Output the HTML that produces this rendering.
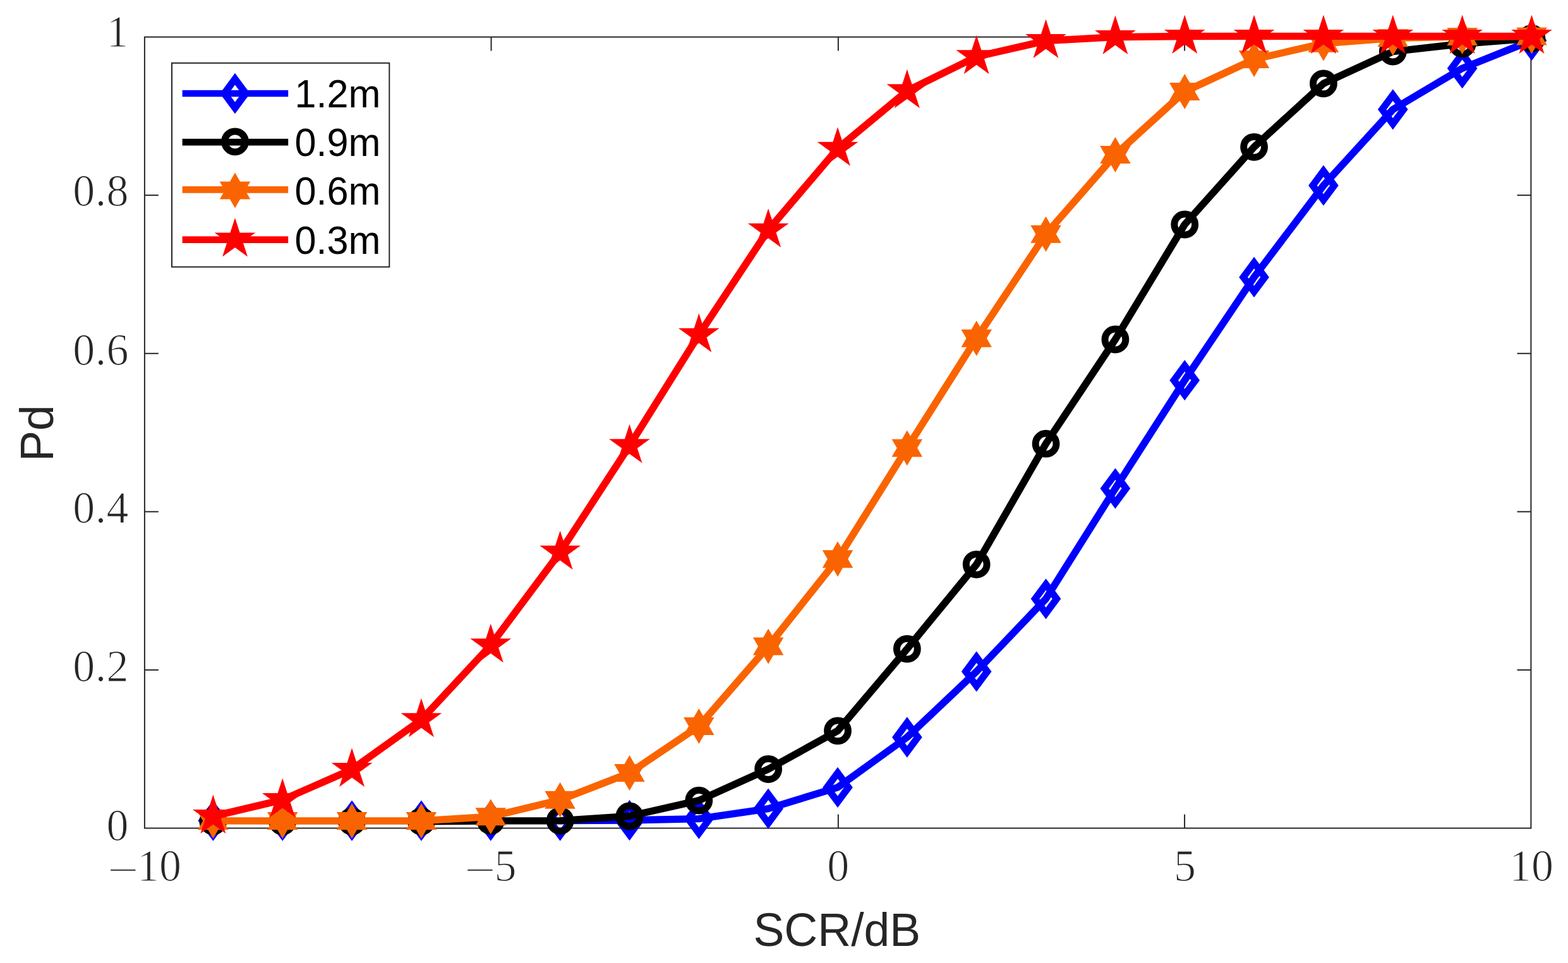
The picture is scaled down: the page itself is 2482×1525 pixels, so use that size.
<!DOCTYPE html>
<html lang="en">
<head>
<meta charset="utf-8">
<title>Pd versus SCR</title>
<style>
html, body { margin: 0; padding: 0; background: #ffffff; }
body { width: 2482px; height: 1525px; overflow: hidden; }
svg { display: block; }
text { white-space: pre; }
</style>
</head>
<body>
<svg width="2482" height="1525" viewBox="0 0 2482 1525" role="img" aria-label="Pd versus SCR/dB for four range resolutions">
<rect x="0" y="0" width="2482" height="1525" fill="#ffffff"/>
<g class="axes" stroke="#262626" stroke-width="2" fill="none" stroke-linecap="butt">
<rect x="228.9" y="58.6" width="2194.5" height="1252.9"/>
<line x1="777.52" y1="1311.5" x2="777.52" y2="1289.6"/>
<line x1="777.52" y1="58.6" x2="777.52" y2="80.5"/>
<line x1="1326.85" y1="1311.5" x2="1326.85" y2="1289.6"/>
<line x1="1326.85" y1="58.6" x2="1326.85" y2="80.5"/>
<line x1="1875.08" y1="1311.5" x2="1875.08" y2="1289.6"/>
<line x1="1875.08" y1="58.6" x2="1875.08" y2="80.5"/>
<line x1="228.9" y1="1060.92" x2="250.8" y2="1060.92"/>
<line x1="2423.4" y1="1060.92" x2="2401.5" y2="1060.92"/>
<line x1="228.9" y1="810.34" x2="250.8" y2="810.34"/>
<line x1="2423.4" y1="810.34" x2="2401.5" y2="810.34"/>
<line x1="228.9" y1="559.76" x2="250.8" y2="559.76"/>
<line x1="2423.4" y1="559.76" x2="2401.5" y2="559.76"/>
<line x1="228.9" y1="309.18" x2="250.8" y2="309.18"/>
<line x1="2423.4" y1="309.18" x2="2401.5" y2="309.18"/>
</g>
<g class="ticklabels" font-family="'Liberation Serif', 'DejaVu Serif', serif" font-size="70" fill="#262626" stroke="#ffffff" stroke-width="1.2" stroke-linejoin="round">
<text transform="translate(204,1330.5) scale(1,1.04)" text-anchor="end" letter-spacing="0.4">0</text>
<text transform="translate(204,1079.34) scale(1,1.04)" text-anchor="end" letter-spacing="0.4">0.2</text>
<text transform="translate(204,828.18) scale(1,1.04)" text-anchor="end" letter-spacing="0.4">0.4</text>
<text transform="translate(204,578.22) scale(1,1.04)" text-anchor="end" letter-spacing="0.4">0.6</text>
<text transform="translate(204,325.86) scale(1,1.04)" text-anchor="end" letter-spacing="0.4">0.8</text>
<text transform="translate(204,74.3) scale(1,1.04)" text-anchor="end" letter-spacing="0.4">1</text>
<text transform="translate(169.8,1394.6) scale(1,1.04)"><tspan dy="7" textLength="49.6" lengthAdjust="spacingAndGlyphs" fill-opacity="0.85">−</tspan><tspan dy="-7" dx="-2.4">10</tspan></text>
<text transform="translate(734.73,1394.6) scale(1,1.04)"><tspan dy="7" textLength="49.6" lengthAdjust="spacingAndGlyphs" fill-opacity="0.85">−</tspan><tspan dy="-7" dx="-1.7">5</tspan></text>
<text transform="translate(1326.75,1394.6) scale(1,1.04)" text-anchor="middle">0</text>
<text transform="translate(1875.38,1394.6) scale(1,1.04)" text-anchor="middle">5</text>
<text transform="translate(2424,1394.6) scale(1,1.04)" text-anchor="middle">10</text>
</g>
<g class="labels" font-family="'Liberation Sans', 'DejaVu Sans', sans-serif" font-size="73.3" fill="#262626">
<text transform="translate(1324.8,1497.7) scale(1,1.02)" text-anchor="middle">SCR/dB</text>
<text transform="translate(83.9,686) rotate(-90) scale(1,1.02)" text-anchor="middle">Pd</text>
</g>
<g class="s-blue">
<polyline points="337.35,1299.6 447.2,1299.6 557.05,1299.6 666.9,1299.6 776.75,1299.6 886.6,1299.6" fill="none" stroke="#0000ff" stroke-width="9" stroke-linejoin="round" stroke-linecap="butt"/>
<polyline points="886.6,1299.6 996.45,1299 1106.3,1296.6 1216.15,1280.6 1326,1246.9 1435.85,1167.5 1545.7,1063.4 1655.55,948.3 1765.4,773.5 1875.25,602.2 1985.1,438.9 2094.95,293.7 2204.8,173.3 2314.65,108.2 2424.5,64.1" fill="none" stroke="#0000ff" stroke-width="11.4" stroke-linejoin="round" stroke-linecap="butt"/>
<polygon points="337.35,1276.7 354.35,1299.6 337.35,1322.5 320.35,1299.6" fill="none" stroke="#0000ff" stroke-width="11" stroke-linejoin="miter"/>
<polygon points="447.2,1276.7 464.2,1299.6 447.2,1322.5 430.2,1299.6" fill="none" stroke="#0000ff" stroke-width="11" stroke-linejoin="miter"/>
<polygon points="557.05,1276.7 574.05,1299.6 557.05,1322.5 540.05,1299.6" fill="none" stroke="#0000ff" stroke-width="11" stroke-linejoin="miter"/>
<polygon points="666.9,1276.7 683.9,1299.6 666.9,1322.5 649.9,1299.6" fill="none" stroke="#0000ff" stroke-width="11" stroke-linejoin="miter"/>
<polygon points="776.75,1276.7 793.75,1299.6 776.75,1322.5 759.75,1299.6" fill="none" stroke="#0000ff" stroke-width="11" stroke-linejoin="miter"/>
<polygon points="886.6,1276.7 903.6,1299.6 886.6,1322.5 869.6,1299.6" fill="none" stroke="#0000ff" stroke-width="11" stroke-linejoin="miter"/>
<polygon points="996.45,1276.1 1013.45,1299 996.45,1321.9 979.45,1299" fill="none" stroke="#0000ff" stroke-width="11" stroke-linejoin="miter"/>
<polygon points="1106.3,1273.7 1123.3,1296.6 1106.3,1319.5 1089.3,1296.6" fill="none" stroke="#0000ff" stroke-width="11" stroke-linejoin="miter"/>
<polygon points="1216.15,1257.7 1233.15,1280.6 1216.15,1303.5 1199.15,1280.6" fill="none" stroke="#0000ff" stroke-width="11" stroke-linejoin="miter"/>
<polygon points="1326,1224 1343,1246.9 1326,1269.8 1309,1246.9" fill="none" stroke="#0000ff" stroke-width="11" stroke-linejoin="miter"/>
<polygon points="1435.85,1144.6 1452.85,1167.5 1435.85,1190.4 1418.85,1167.5" fill="none" stroke="#0000ff" stroke-width="11" stroke-linejoin="miter"/>
<polygon points="1545.7,1040.5 1562.7,1063.4 1545.7,1086.3 1528.7,1063.4" fill="none" stroke="#0000ff" stroke-width="11" stroke-linejoin="miter"/>
<polygon points="1655.55,925.4 1672.55,948.3 1655.55,971.2 1638.55,948.3" fill="none" stroke="#0000ff" stroke-width="11" stroke-linejoin="miter"/>
<polygon points="1765.4,750.6 1782.4,773.5 1765.4,796.4 1748.4,773.5" fill="none" stroke="#0000ff" stroke-width="11" stroke-linejoin="miter"/>
<polygon points="1875.25,579.3 1892.25,602.2 1875.25,625.1 1858.25,602.2" fill="none" stroke="#0000ff" stroke-width="11" stroke-linejoin="miter"/>
<polygon points="1985.1,416 2002.1,438.9 1985.1,461.8 1968.1,438.9" fill="none" stroke="#0000ff" stroke-width="11" stroke-linejoin="miter"/>
<polygon points="2094.95,270.8 2111.95,293.7 2094.95,316.6 2077.95,293.7" fill="none" stroke="#0000ff" stroke-width="11" stroke-linejoin="miter"/>
<polygon points="2204.8,150.4 2221.8,173.3 2204.8,196.2 2187.8,173.3" fill="none" stroke="#0000ff" stroke-width="11" stroke-linejoin="miter"/>
<polygon points="2314.65,85.3 2331.65,108.2 2314.65,131.1 2297.65,108.2" fill="none" stroke="#0000ff" stroke-width="11" stroke-linejoin="miter"/>
<polygon points="2424.5,41.2 2441.5,64.1 2424.5,87 2407.5,64.1" fill="none" stroke="#0000ff" stroke-width="11" stroke-linejoin="miter"/>
</g>
<g class="s-black">
<polyline points="337.35,1300.6 447.2,1300.8 557.05,1300.8 666.9,1300.8" fill="none" stroke="#000000" stroke-width="9" stroke-linejoin="round" stroke-linecap="butt"/>
<polyline points="666.9,1300.8 776.75,1299.9 886.6,1299.8 996.45,1292.4 1106.3,1267.6 1216.15,1218 1326,1157.3 1435.85,1027.6 1545.7,893.8 1655.55,702.7 1765.4,537.5 1875.25,355.5 1985.1,232.8 2094.95,132.3 2204.8,81.6 2314.65,69.3 2424.5,60.8" fill="none" stroke="#000000" stroke-width="11.4" stroke-linejoin="round" stroke-linecap="butt"/>
<circle cx="337.35" cy="1300.6" r="16.4" fill="none" stroke="#000000" stroke-width="11"/>
<circle cx="447.2" cy="1300.8" r="16.4" fill="none" stroke="#000000" stroke-width="11"/>
<circle cx="557.05" cy="1300.8" r="16.4" fill="none" stroke="#000000" stroke-width="11"/>
<circle cx="666.9" cy="1300.8" r="16.4" fill="none" stroke="#000000" stroke-width="11"/>
<circle cx="776.75" cy="1299.9" r="16.4" fill="none" stroke="#000000" stroke-width="11"/>
<circle cx="886.6" cy="1299.8" r="16.4" fill="none" stroke="#000000" stroke-width="11"/>
<circle cx="996.45" cy="1292.4" r="16.4" fill="none" stroke="#000000" stroke-width="11"/>
<circle cx="1106.3" cy="1267.6" r="16.4" fill="none" stroke="#000000" stroke-width="11"/>
<circle cx="1216.15" cy="1218" r="16.4" fill="none" stroke="#000000" stroke-width="11"/>
<circle cx="1326" cy="1157.3" r="16.4" fill="none" stroke="#000000" stroke-width="11"/>
<circle cx="1435.85" cy="1027.6" r="16.4" fill="none" stroke="#000000" stroke-width="11"/>
<circle cx="1545.7" cy="893.8" r="16.4" fill="none" stroke="#000000" stroke-width="11"/>
<circle cx="1655.55" cy="702.7" r="16.4" fill="none" stroke="#000000" stroke-width="11"/>
<circle cx="1765.4" cy="537.5" r="16.4" fill="none" stroke="#000000" stroke-width="11"/>
<circle cx="1875.25" cy="355.5" r="16.4" fill="none" stroke="#000000" stroke-width="11"/>
<circle cx="1985.1" cy="232.8" r="16.4" fill="none" stroke="#000000" stroke-width="11"/>
<circle cx="2094.95" cy="132.3" r="16.4" fill="none" stroke="#000000" stroke-width="11"/>
<circle cx="2204.8" cy="81.6" r="16.4" fill="none" stroke="#000000" stroke-width="11"/>
<circle cx="2314.65" cy="69.3" r="16.4" fill="none" stroke="#000000" stroke-width="11"/>
<circle cx="2424.5" cy="60.8" r="16.4" fill="none" stroke="#000000" stroke-width="11"/>
</g>
<g class="s-orange">
<polyline points="337.35,1299.9 447.2,1299.9 557.05,1299.9 666.9,1299.9 776.75,1293.3 886.6,1266.7 996.45,1224.1 1106.3,1150 1216.15,1023.4 1326,885.3 1435.85,709.6 1545.7,535.8 1655.55,370.7 1765.4,245 1875.25,145 1985.1,94 2094.95,68.7 2204.8,60.2 2314.65,58 2424.5,57.6" fill="none" stroke="#fa6400" stroke-width="11.4" stroke-linejoin="round" stroke-linecap="butt"/>
<polygon points="337.35,1271.9 345.43,1285.9 361.6,1285.9 353.52,1299.9 361.6,1313.9 345.43,1313.9 337.35,1327.9 329.27,1313.9 313.1,1313.9 321.18,1299.9 313.1,1285.9 329.27,1285.9" fill="#fa6400"/>
<polygon points="447.2,1271.9 455.28,1285.9 471.45,1285.9 463.37,1299.9 471.45,1313.9 455.28,1313.9 447.2,1327.9 439.12,1313.9 422.95,1313.9 431.03,1299.9 422.95,1285.9 439.12,1285.9" fill="#fa6400"/>
<polygon points="557.05,1271.9 565.13,1285.9 581.3,1285.9 573.22,1299.9 581.3,1313.9 565.13,1313.9 557.05,1327.9 548.97,1313.9 532.8,1313.9 540.88,1299.9 532.8,1285.9 548.97,1285.9" fill="#fa6400"/>
<polygon points="666.9,1271.9 674.98,1285.9 691.15,1285.9 683.07,1299.9 691.15,1313.9 674.98,1313.9 666.9,1327.9 658.82,1313.9 642.65,1313.9 650.73,1299.9 642.65,1285.9 658.82,1285.9" fill="#fa6400"/>
<polygon points="776.75,1265.3 784.83,1279.3 801,1279.3 792.92,1293.3 801,1307.3 784.83,1307.3 776.75,1321.3 768.67,1307.3 752.5,1307.3 760.58,1293.3 752.5,1279.3 768.67,1279.3" fill="#fa6400"/>
<polygon points="886.6,1238.7 894.68,1252.7 910.85,1252.7 902.77,1266.7 910.85,1280.7 894.68,1280.7 886.6,1294.7 878.52,1280.7 862.35,1280.7 870.43,1266.7 862.35,1252.7 878.52,1252.7" fill="#fa6400"/>
<polygon points="996.45,1196.1 1004.53,1210.1 1020.7,1210.1 1012.62,1224.1 1020.7,1238.1 1004.53,1238.1 996.45,1252.1 988.37,1238.1 972.2,1238.1 980.28,1224.1 972.2,1210.1 988.37,1210.1" fill="#fa6400"/>
<polygon points="1106.3,1122 1114.38,1136 1130.55,1136 1122.47,1150 1130.55,1164 1114.38,1164 1106.3,1178 1098.22,1164 1082.05,1164 1090.13,1150 1082.05,1136 1098.22,1136" fill="#fa6400"/>
<polygon points="1216.15,995.4 1224.23,1009.4 1240.4,1009.4 1232.32,1023.4 1240.4,1037.4 1224.23,1037.4 1216.15,1051.4 1208.07,1037.4 1191.9,1037.4 1199.98,1023.4 1191.9,1009.4 1208.07,1009.4" fill="#fa6400"/>
<polygon points="1326,857.3 1334.08,871.3 1350.25,871.3 1342.17,885.3 1350.25,899.3 1334.08,899.3 1326,913.3 1317.92,899.3 1301.75,899.3 1309.83,885.3 1301.75,871.3 1317.92,871.3" fill="#fa6400"/>
<polygon points="1435.85,681.6 1443.93,695.6 1460.1,695.6 1452.02,709.6 1460.1,723.6 1443.93,723.6 1435.85,737.6 1427.77,723.6 1411.6,723.6 1419.68,709.6 1411.6,695.6 1427.77,695.6" fill="#fa6400"/>
<polygon points="1545.7,507.8 1553.78,521.8 1569.95,521.8 1561.87,535.8 1569.95,549.8 1553.78,549.8 1545.7,563.8 1537.62,549.8 1521.45,549.8 1529.53,535.8 1521.45,521.8 1537.62,521.8" fill="#fa6400"/>
<polygon points="1655.55,342.7 1663.63,356.7 1679.8,356.7 1671.72,370.7 1679.8,384.7 1663.63,384.7 1655.55,398.7 1647.47,384.7 1631.3,384.7 1639.38,370.7 1631.3,356.7 1647.47,356.7" fill="#fa6400"/>
<polygon points="1765.4,217 1773.48,231 1789.65,231 1781.57,245 1789.65,259 1773.48,259 1765.4,273 1757.32,259 1741.15,259 1749.23,245 1741.15,231 1757.32,231" fill="#fa6400"/>
<polygon points="1875.25,117 1883.33,131 1899.5,131 1891.42,145 1899.5,159 1883.33,159 1875.25,173 1867.17,159 1851,159 1859.08,145 1851,131 1867.17,131" fill="#fa6400"/>
<polygon points="1985.1,66 1993.18,80 2009.35,80 2001.27,94 2009.35,108 1993.18,108 1985.1,122 1977.02,108 1960.85,108 1968.93,94 1960.85,80 1977.02,80" fill="#fa6400"/>
<polygon points="2094.95,40.7 2103.03,54.7 2119.2,54.7 2111.12,68.7 2119.2,82.7 2103.03,82.7 2094.95,96.7 2086.87,82.7 2070.7,82.7 2078.78,68.7 2070.7,54.7 2086.87,54.7" fill="#fa6400"/>
<polygon points="2204.8,32.2 2212.88,46.2 2229.05,46.2 2220.97,60.2 2229.05,74.2 2212.88,74.2 2204.8,88.2 2196.72,74.2 2180.55,74.2 2188.63,60.2 2180.55,46.2 2196.72,46.2" fill="#fa6400"/>
<polygon points="2314.65,30 2322.73,44 2338.9,44 2330.82,58 2338.9,72 2322.73,72 2314.65,86 2306.57,72 2290.4,72 2298.48,58 2290.4,44 2306.57,44" fill="#fa6400"/>
<polygon points="2424.5,29.6 2432.58,43.6 2448.75,43.6 2440.67,57.6 2448.75,71.6 2432.58,71.6 2424.5,85.6 2416.42,71.6 2400.25,71.6 2408.33,57.6 2400.25,43.6 2416.42,43.6" fill="#fa6400"/>
</g>
<g class="s-red">
<polyline points="337.35,1292.6 447.2,1266.6 557.05,1218.5 666.9,1139.8 776.75,1021.8 886.6,874.5 996.45,705.8 1106.3,530.3 1216.15,364.2 1326,235.2 1435.85,143.8 1545.7,89.8 1655.55,64.6 1765.4,58.6 1875.25,57.5 1985.1,57.4 2094.95,57.4 2204.8,57.4 2314.65,57.4 2424.5,57.4" fill="none" stroke="#ff0000" stroke-width="11.4" stroke-linejoin="round" stroke-linecap="butt"/>
<polygon points="337.35,1258.6 344.98,1282.09 369.69,1282.09 349.7,1296.61 357.33,1320.11 337.35,1305.59 317.37,1320.11 325,1296.61 305.01,1282.09 329.72,1282.09" fill="#ff0000"/>
<polygon points="447.2,1232.6 454.83,1256.09 479.54,1256.09 459.55,1270.61 467.18,1294.11 447.2,1279.59 427.22,1294.11 434.85,1270.61 414.86,1256.09 439.57,1256.09" fill="#ff0000"/>
<polygon points="557.05,1184.5 564.68,1207.99 589.39,1207.99 569.4,1222.51 577.03,1246.01 557.05,1231.49 537.07,1246.01 544.7,1222.51 524.71,1207.99 549.42,1207.99" fill="#ff0000"/>
<polygon points="666.9,1105.8 674.53,1129.29 699.24,1129.29 679.25,1143.81 686.88,1167.31 666.9,1152.79 646.92,1167.31 654.55,1143.81 634.56,1129.29 659.27,1129.29" fill="#ff0000"/>
<polygon points="776.75,987.8 784.38,1011.29 809.09,1011.29 789.1,1025.81 796.73,1049.31 776.75,1034.79 756.77,1049.31 764.4,1025.81 744.41,1011.29 769.12,1011.29" fill="#ff0000"/>
<polygon points="886.6,840.5 894.23,863.99 918.94,863.99 898.95,878.51 906.58,902.01 886.6,887.49 866.62,902.01 874.25,878.51 854.26,863.99 878.97,863.99" fill="#ff0000"/>
<polygon points="996.45,671.8 1004.08,695.29 1028.79,695.29 1008.8,709.81 1016.43,733.31 996.45,718.79 976.47,733.31 984.1,709.81 964.11,695.29 988.82,695.29" fill="#ff0000"/>
<polygon points="1106.3,496.3 1113.93,519.79 1138.64,519.79 1118.65,534.31 1126.28,557.81 1106.3,543.29 1086.32,557.81 1093.95,534.31 1073.96,519.79 1098.67,519.79" fill="#ff0000"/>
<polygon points="1216.15,330.2 1223.78,353.69 1248.49,353.69 1228.5,368.21 1236.13,391.71 1216.15,377.19 1196.17,391.71 1203.8,368.21 1183.81,353.69 1208.52,353.69" fill="#ff0000"/>
<polygon points="1326,201.2 1333.63,224.69 1358.34,224.69 1338.35,239.21 1345.98,262.71 1326,248.19 1306.02,262.71 1313.65,239.21 1293.66,224.69 1318.37,224.69" fill="#ff0000"/>
<polygon points="1435.85,109.8 1443.48,133.29 1468.19,133.29 1448.2,147.81 1455.83,171.31 1435.85,156.79 1415.87,171.31 1423.5,147.81 1403.51,133.29 1428.22,133.29" fill="#ff0000"/>
<polygon points="1545.7,55.8 1553.33,79.29 1578.04,79.29 1558.05,93.81 1565.68,117.31 1545.7,102.79 1525.72,117.31 1533.35,93.81 1513.36,79.29 1538.07,79.29" fill="#ff0000"/>
<polygon points="1655.55,30.6 1663.18,54.09 1687.89,54.09 1667.9,68.61 1675.53,92.11 1655.55,77.59 1635.57,92.11 1643.2,68.61 1623.21,54.09 1647.92,54.09" fill="#ff0000"/>
<polygon points="1765.4,24.6 1773.03,48.09 1797.74,48.09 1777.75,62.61 1785.38,86.11 1765.4,71.59 1745.42,86.11 1753.05,62.61 1733.06,48.09 1757.77,48.09" fill="#ff0000"/>
<polygon points="1875.25,23.5 1882.88,46.99 1907.59,46.99 1887.6,61.51 1895.23,85.01 1875.25,70.49 1855.27,85.01 1862.9,61.51 1842.91,46.99 1867.62,46.99" fill="#ff0000"/>
<polygon points="1985.1,23.4 1992.73,46.89 2017.44,46.89 1997.45,61.41 2005.08,84.91 1985.1,70.39 1965.12,84.91 1972.75,61.41 1952.76,46.89 1977.47,46.89" fill="#ff0000"/>
<polygon points="2094.95,23.4 2102.58,46.89 2127.29,46.89 2107.3,61.41 2114.93,84.91 2094.95,70.39 2074.97,84.91 2082.6,61.41 2062.61,46.89 2087.32,46.89" fill="#ff0000"/>
<polygon points="2204.8,23.4 2212.43,46.89 2237.14,46.89 2217.15,61.41 2224.78,84.91 2204.8,70.39 2184.82,84.91 2192.45,61.41 2172.46,46.89 2197.17,46.89" fill="#ff0000"/>
<polygon points="2314.65,23.4 2322.28,46.89 2346.99,46.89 2327,61.41 2334.63,84.91 2314.65,70.39 2294.67,84.91 2302.3,61.41 2282.31,46.89 2307.02,46.89" fill="#ff0000"/>
<polygon points="2424.5,23.4 2432.13,46.89 2456.84,46.89 2436.85,61.41 2444.48,84.91 2424.5,70.39 2404.52,84.91 2412.15,61.41 2392.16,46.89 2416.87,46.89" fill="#ff0000"/>
</g>
<g class="legend">
<rect x="272" y="99.8" width="344.3" height="322.9" fill="#ffffff" stroke="#262626" stroke-width="2"/>
<line x1="288.6" y1="148" x2="456.2" y2="148" stroke="#0000ff" stroke-width="10.7"/>
<polygon points="372,125.1 389,148 372,170.9 355,148" fill="none" stroke="#0000ff" stroke-width="11" stroke-linejoin="miter"/>
<text transform="translate(466.6,170.4) scale(1,1.04)" font-family="'Liberation Sans', 'DejaVu Sans', sans-serif" font-size="61.1" fill="#000000">1.2m</text>
<line x1="288.6" y1="225.1" x2="456.2" y2="225.1" stroke="#000000" stroke-width="10.7"/>
<circle cx="372" cy="224.3" r="16.4" fill="none" stroke="#000000" stroke-width="11"/>
<text transform="translate(466.6,247) scale(1,1.04)" font-family="'Liberation Sans', 'DejaVu Sans', sans-serif" font-size="61.1" fill="#000000">0.9m</text>
<line x1="288.6" y1="300.3" x2="456.2" y2="300.3" stroke="#fa6400" stroke-width="10.7"/>
<polygon points="372,273.4 380.08,287.4 396.25,287.4 388.17,301.4 396.25,315.4 380.08,315.4 372,329.4 363.92,315.4 347.75,315.4 355.83,301.4 347.75,287.4 363.92,287.4" fill="#fa6400"/>
<text transform="translate(466.6,324.3) scale(1,1.04)" font-family="'Liberation Sans', 'DejaVu Sans', sans-serif" font-size="61.1" fill="#000000">0.6m</text>
<line x1="288.6" y1="379.7" x2="456.2" y2="379.7" stroke="#ff0000" stroke-width="10.7"/>
<polygon points="372,345 379.63,368.49 404.34,368.49 384.35,383.01 391.98,406.51 372,391.99 352.02,406.51 359.65,383.01 339.66,368.49 364.37,368.49" fill="#ff0000"/>
<text transform="translate(466.6,401.6) scale(1,1.04)" font-family="'Liberation Sans', 'DejaVu Sans', sans-serif" font-size="61.1" fill="#000000">0.3m</text>
</g>
</svg>
</body>
</html>
